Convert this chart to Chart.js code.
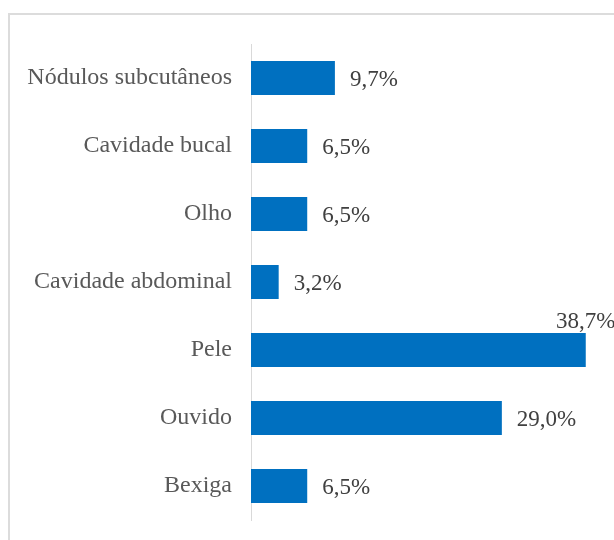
<!DOCTYPE html>
<html>
<head>
<meta charset="utf-8">
<script src="https://cdn.jsdelivr.net/npm/chart.js@4"></script>
<style>
  body { margin: 0; background: #fff; }
  #wrap { position: relative; width: 614px; height: 540px; overflow: hidden; }
  #frame {
    position: absolute; left: 8px; top: 13px; width: 700px; height: 700px;
    border-top: 2px solid #dcdcdc; border-left: 2px solid #dcdcdc;
  }
  #graph { position: absolute; left: 0; top: 0; }
</style>
</head>
<body>
<div id="wrap">
  <div id="frame"></div>
  <canvas id="graph" width="614" height="540"></canvas>
</div>
<script>
const categories = ['Nódulos subcutâneos', 'Cavidade bucal', 'Olho', 'Cavidade abdominal', 'Pele', 'Ouvido', 'Bexiga'];
const percents = [9.7, 6.5, 6.5, 3.2, 38.7, 29.0, 6.5];

const serif = '"Liberation Serif", "Times New Roman", serif';
const graphCanvas = document.getElementById('graph');

// value labels at the end of each bar; if there is no room, sit on top of the bar end
const barLabels = {
  id: 'barLabels',
  afterDatasetsDraw(chart) {
    const ctx = chart.ctx;
    const meta = chart.getDatasetMeta(0);
    ctx.save();
    ctx.font = '23px ' + serif;
    ctx.fillStyle = '#404040';
    ctx.textBaseline = 'alphabetic';
    meta.data.forEach((bar, i) => {
      const text = percents[i].toFixed(1).replace('.', ',') + '%';
      const w = ctx.measureText(text).width;
      if (bar.x + 15 + w > chart.width) {
        ctx.textAlign = 'center';
        ctx.fillText(text, bar.x, bar.y - bar.height / 2 - 5);
      } else {
        ctx.textAlign = 'left';
        ctx.fillText(text, bar.x + 15, bar.y + 8);
      }
    });
    ctx.restore();
  }
};

new Chart(graphCanvas, {
  type: 'bar',
  data: {
    labels: categories,
    datasets: [{
      data: percents,
      backgroundColor: '#0070C0',
      categoryPercentage: 1,
      barPercentage: 0.5
    }]
  },
  options: {
    indexAxis: 'y',
    responsive: false,
    animation: false,
    layout: { padding: { top: 44, bottom: 20, right: 17, left: 0 } },
    plugins: { legend: { display: false }, tooltip: { enabled: false } },
    scales: {
      x: { display: false, min: 0, max: 40 },
      y: {
        grid: { display: false, drawTicks: false },
        border: { display: true, color: '#d9d9d9', width: 1 },
        ticks: { color: '#595959', padding: 19, font: { family: serif, size: 24 } },
        afterFit(scale) {
          scale.width = 251;
          scale.paddingTop = 0;
          scale.paddingBottom = 0;
        }
      }
    }
  },
  plugins: [barLabels]
});
</script>
</body>
</html>
